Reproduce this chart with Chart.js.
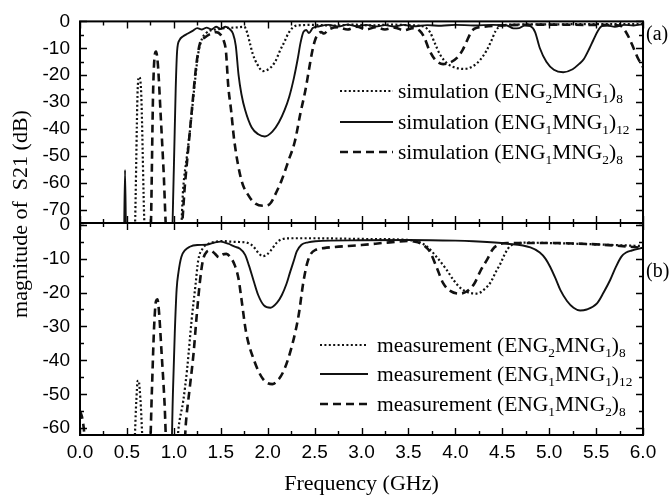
<!DOCTYPE html>
<html><head><meta charset="utf-8">
<script src="https://cdn.jsdelivr.net/npm/chart.js@4"></script>
<style>
html,body{margin:0;padding:0;background:#fff;}
#wrap{position:relative;width:669px;height:502px;background:#fff;}
canvas{position:absolute;left:0;top:0;}
</style></head><body>
<div id="wrap"><canvas id="ca" width="669" height="502"></canvas><canvas id="cb" width="669" height="502"></canvas></div>
<script>
// ---------- data: panel (a) simulation ----------
const simDot_f  = [0,0.58,0.615,0.63,0.65,0.695,1.07,1.10,1.14,1.18,1.22,1.26,1.30,1.34,1.38,1.45,1.55,1.65,1.75,1.78,1.81,1.84,1.89,1.95,2.02,2.08,2.13,2.18,2.22,2.27,2.32,2.5,2.7,2.9,3.1,3.3,3.5,3.65,3.73,3.78,3.84,3.92,4.0,4.09,4.18,4.26,4.33,4.38,4.43,4.48,4.6,5.0,5.5,6.0];
const simDot_db = [-90,-80,-25,-20.7,-25,-80,-80,-62,-50,-38,-24,-12,-6.5,-4.5,-3.5,-3,-2.5,-2.3,-2,-4,-8,-12,-16,-18.5,-17.5,-15,-11,-7.5,-4.5,-2.2,-1.5,-1.3,-1.6,-1.2,-1.5,-1.2,-1.4,-1.8,-4,-8,-12.5,-15.8,-17.2,-17.7,-16.8,-14.5,-11,-7.5,-3.5,-1.8,-1.2,-1.1,-1.0,-1.0];

const simSolid_f  = [0,0.465,0.48,0.495,0.97,1.00,1.02,1.035,1.06,1.10,1.15,1.20,1.25,1.30,1.35,1.40,1.45,1.50,1.55,1.60,1.63,1.66,1.69,1.72,1.76,1.83,1.90,1.97,2.05,2.12,2.18,2.23,2.28,2.32,2.35,2.38,2.41,2.44,2.48,2.55,2.65,2.75,2.85,2.95,3.05,3.15,3.25,3.35,3.45,3.55,3.7,3.85,4.0,4.2,4.4,4.55,4.62,4.68,4.74,4.8,4.85,4.9,4.97,5.05,5.15,5.25,5.32,5.37,5.43,5.47,5.52,5.56,5.62,5.7,5.8,5.9,6.0];
const simSolid_db = [-90,-90,-55.3,-90,-90,-55,-25,-11,-7,-5.5,-4.5,-3.5,-2.5,-3,-2.3,-3,-2,-2.8,-2,-3,-4.5,-9,-20,-27,-33,-39.5,-42,-42.8,-41,-37.5,-33,-28,-21,-14,-8,-4,-3.2,-4.3,-2.5,-1.8,-1.3,-1.9,-1.2,-1.8,-1.3,-1.9,-1.4,-1.9,-1.3,-1.8,-1.4,-1.6,-1.3,-1.5,-1.3,-1.5,-2.6,-2.5,-1.5,-1.8,-4,-9.9,-15,-18,-18.9,-17.8,-15.8,-14,-10,-7,-3.5,-1.8,-1.5,-2,-1.3,-1.5,-1];

const simDash_f  = [0,0.75,0.78,0.795,0.81,0.83,0.86,0.89,0.925,1.07,1.12,1.16,1.20,1.24,1.28,1.33,1.40,1.45,1.50,1.53,1.555,1.58,1.61,1.645,1.72,1.80,1.87,1.95,2.02,2.10,2.15,2.22,2.29,2.35,2.40,2.44,2.47,2.50,2.53,2.57,2.6,2.65,2.75,2.85,2.95,3.05,3.15,3.25,3.35,3.45,3.55,3.62,3.67,3.72,3.78,3.87,3.95,4.02,4.08,4.12,4.16,4.2,4.3,4.5,5.0,5.5,5.75,5.8,5.85,5.9,5.95,6.0];
const simDash_db = [-90,-80,-25,-13,-11.2,-16,-35,-55,-80,-80,-60,-45,-30,-16,-8,-6,-4.5,-4,-5,-7,-11,-24,-33,-44.6,-59,-65,-67.8,-68.6,-68,-63,-59,-52,-44.6,-34,-26,-18,-12,-7.5,-5,-4,-4.5,-3,-2.2,-3,-2,-3,-2.2,-3,-2.3,-3.3,-2.5,-3.5,-6,-10.5,-14,-15.9,-15.2,-13.5,-10.5,-7.5,-4.5,-2.8,-2,-1.5,-1.2,-1.3,-1.5,-3,-6,-10,-14,-17];

// ---------- data: panel (b) measurement ----------
const meaDot_f  = [0,0.575,0.60,0.615,0.625,0.645,0.675,1.02,1.05,1.10,1.14,1.19,1.23,1.26,1.31,1.37,1.45,1.51,1.60,1.70,1.79,1.85,1.90,1.95,2.00,2.05,2.10,2.15,2.26,2.5,3.0,3.5,3.62,3.70,3.80,3.90,3.98,4.06,4.14,4.23,4.32,4.38,4.43,4.48,4.53,4.58,4.65,4.75,5.0,5.5,6.0];
const meaDot_db = [-70,-66,-52,-46,-46,-52,-66,-70,-60,-52,-43,-28,-18,-10.5,-6.9,-5.6,-5,-4.8,-5,-5.1,-5.4,-6.5,-8.3,-9.3,-8.6,-7,-5.2,-4.3,-4,-4,-4.2,-4.5,-5.2,-6.5,-9.5,-13,-16.3,-18.8,-20,-20.3,-18.8,-16.8,-14,-11.5,-8.5,-6.4,-5.6,-5.3,-5.4,-5.8,-6.3];

const meaSolid_f  = [0,0.97,0.99,1.01,1.03,1.05,1.08,1.12,1.17,1.25,1.35,1.44,1.5,1.58,1.65,1.7,1.76,1.8,1.85,1.9,1.96,2.03,2.1,2.15,2.2,2.24,2.28,2.31,2.36,2.43,2.51,3.0,3.5,4.0,4.19,4.55,4.8,4.9,4.96,5.01,5.07,5.12,5.19,5.26,5.33,5.4,5.51,5.58,5.65,5.71,5.77,5.82,5.88,6.0];
const meaSolid_db = [-70,-70,-50,-32,-19,-13.9,-9.5,-7.5,-6.5,-6,-5.9,-5.2,-5.0,-5.6,-6.5,-7,-8.9,-12,-16.5,-20.8,-23.8,-24.5,-23,-20.8,-17.5,-13.9,-10.5,-7.9,-5.9,-5.2,-4.9,-4.6,-4.5,-4.7,-4.9,-5.6,-6.7,-8.2,-10,-12.4,-16,-19.3,-22.5,-24.5,-25.3,-25,-23.2,-20,-16.3,-12.5,-9.4,-8.2,-7.6,-6.8];

const meaDash_f  = [0,0.02,0.04,0.07,0.74,0.765,0.79,0.81,0.825,0.84,0.87,0.9,0.93,1.1,1.13,1.17,1.21,1.24,1.28,1.31,1.35,1.39,1.44,1.48,1.52,1.56,1.6,1.65,1.69,1.72,1.77,1.85,1.95,2.05,2.12,2.18,2.26,2.33,2.38,2.42,2.46,2.52,2.6,2.7,3.0,3.3,3.5,3.6,3.67,3.73,3.8,3.87,3.95,4.05,4.12,4.2,4.27,4.34,4.4,4.45,4.55,4.8,5.0,5.5,6.0];
const meaDash_db = [-55,-56.5,-60,-70,-70,-50,-30,-22.5,-22,-25,-38,-52,-70,-70,-58,-48,-38,-28,-16.3,-10.5,-8,-7.6,-8.6,-9.6,-8.8,-8.6,-9.5,-12,-16,-21.8,-31.7,-39.6,-45.5,-47,-45.5,-42.5,-35.6,-26.7,-17,-11.5,-8.6,-7.3,-6.9,-6.6,-6,-5.2,-4.8,-5.2,-6.2,-8,-12.5,-17.2,-19.6,-20.3,-19.7,-17.5,-13.5,-10.2,-7.2,-6,-5.4,-5.4,-5.4,-5.8,-6.8];

// ---------- ticks & labels ----------
const xTicks  = [0,0.5,1,1.5,2,2.5,3,3.5,4,4.5,5,5.5,6];
const yTicksA = [0,-10,-20,-30,-40,-50,-60,-70];
const yTicksB = [0,-10,-20,-30,-40,-50,-60];
const labelsA = ['simulation (ENG_{2}MNG_{1})_{8}','simulation (ENG_{1}MNG_{1})_{12}','simulation (ENG_{1}MNG_{2})_{8}'];
const labelsB = ['measurement (ENG_{2}MNG_{1})_{8}','measurement (ENG_{1}MNG_{1})_{12}','measurement (ENG_{1}MNG_{2})_{8}'];
const xTitle = 'Frequency (GHz)';
const yTitle = 'magnitude of  S21 (dB)';

// ---------- helpers ----------
const INK = '#111';
const SANS = '"Liberation Sans", Arial, sans-serif';
const SERIF = '"Liberation Serif", "Times New Roman", serif';
const STY = {
  dot:   {borderDash:[2,2.4], borderWidth:2.2},
  solid: {borderDash:[],      borderWidth:1.9},
  dash:  {borderDash:[8,5],   borderWidth:2.6}
};
function pts(f,d){ return f.map((x,i)=>({x:x,y:d[i]})); }
function mk(label,f,d,style){
  return Object.assign({label:label,data:pts(f,d),borderColor:INK,backgroundColor:INK,
    pointRadius:0,fill:false,cubicInterpolationMode:'monotone',borderJoinStyle:'round'},STY[style]);
}
function richText(ctx,str,x,yMid,size){
  const parts=[]; const re=/_\{([^}]*)\}/g; let last=0,m;
  while((m=re.exec(str))){ if(m.index>last) parts.push([str.slice(last,m.index),false]); parts.push([m[1],true]); last=re.lastIndex; }
  if(last<str.length) parts.push([str.slice(last),false]);
  const base=yMid+size*0.33; let cx=x;
  ctx.textAlign='left'; ctx.textBaseline='alphabetic'; ctx.fillStyle='#000';
  for(const [t,sub] of parts){
    ctx.font=(sub?size*0.62:size)+'px '+SERIF;
    ctx.fillText(t,cx,sub?base+size*0.25:base);
    cx+=ctx.measureText(t).width;
  }
}
function framePlugin(cfg){
  return {id:'frame'+cfg.name, afterDatasetsDraw(chart){
    const ctx=chart.ctx, a=chart.chartArea, xs=chart.scales.x, ys=chart.scales.y;
    ctx.save();
    ctx.strokeStyle='#000'; ctx.lineWidth=1.4; ctx.setLineDash([]);
    ctx.beginPath();
    for(let i=0;i<=24;i++){ const v=i*0.25; const px=Math.round(xs.getPixelForValue(v))+0.5; const L=(i%2===0)?7:4;
      ctx.moveTo(px,a.bottom); ctx.lineTo(px,a.bottom-L); ctx.moveTo(px,a.top); ctx.lineTo(px,a.top+L); }
    for(let v=0; v>=ys.min; v-=5){ const py=Math.round(ys.getPixelForValue(v))+0.5; const L=(v%10===0)?7:4;
      ctx.moveTo(a.left,py); ctx.lineTo(a.left+L,py); ctx.moveTo(a.right,py); ctx.lineTo(a.right-L,py); }
    ctx.stroke();
    ctx.lineWidth=2; ctx.strokeRect(a.left,a.top,a.right-a.left,a.bottom-a.top);
    // legend
    chart.data.datasets.forEach((ds,i)=>{
      const y=cfg.legY[i];
      ctx.strokeStyle=INK; ctx.lineWidth=ds.borderWidth; ctx.setLineDash(ds.borderDash);
      ctx.beginPath(); ctx.moveTo(cfg.legX1,y); ctx.lineTo(cfg.legX2,y); ctx.stroke();
      richText(ctx,cfg.labels[i],cfg.legTx,y,21.5);
    });
    ctx.setLineDash([]);
    ctx.font='20px '+SERIF; ctx.fillStyle='#000'; ctx.textAlign='left'; ctx.textBaseline='middle';
    ctx.fillText(cfg.tag,646,cfg.tagY);
    if(cfg.titles){
      ctx.font='22px '+SERIF;
      ctx.textAlign='center'; ctx.textBaseline='middle';
      ctx.fillText(xTitle,(a.left+a.right)/2,484);
      ctx.save(); ctx.translate(21,214); ctx.rotate(-Math.PI/2); ctx.fillText(yTitle,0,0); ctx.restore();
    }
    ctx.restore();
  }};
}
function yScale(min,max,ticks){
  return {type:'linear',min:min,max:max,
    afterBuildTicks(s){ s.ticks=ticks.map(v=>({value:v})); },
    afterFit(s){ s.width=80; },
    grid:{display:false,drawTicks:false}, border:{display:false},
    ticks:{color:'#000',font:{family:SANS,size:19},padding:10}};
}
Chart.defaults.font.family=SANS;

new Chart(document.getElementById('ca'),{
  type:'line',
  data:{datasets:[mk(labelsA[0],simDot_f,simDot_db,'dot'),mk(labelsA[1],simSolid_f,simSolid_db,'solid'),mk(labelsA[2],simDash_f,simDash_db,'dash')]},
  options:{responsive:false,animation:false,devicePixelRatio:1,
    layout:{padding:{left:0,top:14,right:26,bottom:279}},
    plugins:{legend:{display:false},tooltip:{enabled:false}},
    scales:{
      x:{type:'linear',min:0,max:6,afterBuildTicks(s){s.ticks=xTicks.map(v=>({value:v}));},afterFit(s){s.height=0;},
         grid:{display:false,drawTicks:false},border:{display:false},ticks:{display:false}},
      y:yScale(-75,0,yTicksA)
    }},
  plugins:[framePlugin({name:'A',labels:labelsA,legX1:340,legX2:393,legTx:398,legY:[91,122,152],tag:'(a)',tagY:35,titles:false})]
});

new Chart(document.getElementById('cb'),{
  type:'line',
  data:{datasets:[mk(labelsB[0],meaDot_f,meaDot_db,'dot'),mk(labelsB[1],meaSolid_f,meaSolid_db,'solid'),mk(labelsB[2],meaDash_f,meaDash_db,'dash')]},
  options:{responsive:false,animation:false,devicePixelRatio:1,
    layout:{padding:{left:0,top:223,right:26,bottom:0}},
    plugins:{legend:{display:false},tooltip:{enabled:false}},
    scales:{
      x:{type:'linear',min:0,max:6,afterBuildTicks(s){s.ticks=xTicks.map(v=>({value:v}));},afterFit(s){s.height=67;},
         grid:{display:false,drawTicks:false},border:{display:false},
         ticks:{color:'#000',font:{family:SANS,size:19},padding:6,maxRotation:0,autoSkip:false,callback:v=>Number(v).toFixed(1)}},
      y:yScale(-62,0.5,yTicksB)
    }},
  plugins:[framePlugin({name:'B',labels:labelsB,legX1:320,legX2:368,legTx:377,legY:[345,374,404],tag:'(b)',tagY:272,titles:true})]
});
</script>
</body></html>
